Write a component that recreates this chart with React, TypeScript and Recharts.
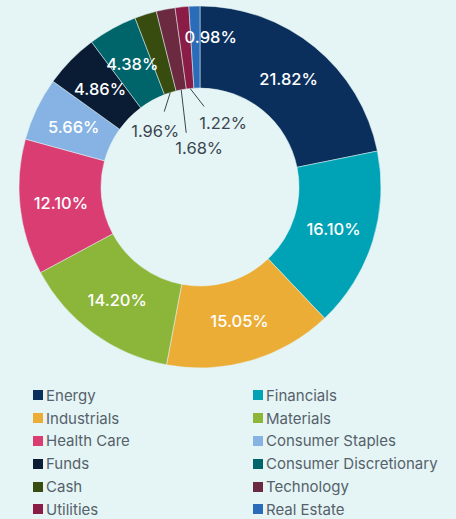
import { Cell, Legend, Pie, PieChart } from 'recharts'

const sectors = [
  'Energy', 'Financials', 'Industrials', 'Materials', 'Health Care', 'Consumer Staples',
  'Funds', 'Consumer Discretionary', 'Cash', 'Technology', 'Utilities', 'Real Estate',
]
const weights = [21.82, 16.1, 15.05, 14.2, 12.1, 5.66, 4.86, 4.38, 1.96, 1.68, 1.22, 0.98]
const colors = [
  '#0b2f5c', '#00a3b5', '#ebad36', '#8bb63a', '#d93d72', '#86b3e4',
  '#0a1b34', '#00646b', '#374c0e', '#6c2a41', '#8b1c46', '#2b6cb8',
]

// small slices get a leader line into the hole: [line dx, line dy, text dx, text dy]
const leaders: Record<string, number[]> = {
  Cash: [-6, 19, -9, 19],
  Technology: [5, 43, 13, 15],
  Utilities: [14, 18, 19, 17],
}
// nudges for labels that are not at the ring centre
const nudges: Record<string, number[]> = {
  'Real Estate': [15, -10],
}

const data = sectors.map((name, i) => ({ name, value: weights[i], color: colors[i] }))

const RAD = Math.PI / 180
const BG = '#e5f5f5'

function SliceLabel(props: any) {
  const { cx, cy, midAngle, innerRadius, outerRadius, name, value } = props
  const cos = Math.cos(-midAngle * RAD)
  const sin = Math.sin(-midAngle * RAD)
  const text = `${value.toFixed(2)}%`
  const leader = leaders[name]
  if (leader) {
    const x0 = cx + innerRadius * cos
    const y0 = cy + innerRadius * sin
    const x1 = x0 + leader[0]
    const y1 = y0 + leader[1]
    return (
      <g>
        <line x1={x0} y1={y0} x2={x1} y2={y1} stroke="#3b4550" strokeWidth={1} />
        <text x={x1 + leader[2]} y={y1 + leader[3]} fill="#3b4550" fontSize={16.5}
          fontFamily="Inter" textAnchor="middle" dominantBaseline="central">
          {text}
        </text>
      </g>
    )
  }
  const r = (innerRadius + outerRadius) / 2
  const n = nudges[name] ?? [0, 0]
  return (
    <text x={cx + r * cos + n[0]} y={cy + r * sin + n[1]} fill="#ffffff" fontSize={16.5}
      fontWeight={500} fontFamily="Inter" textAnchor="middle" dominantBaseline="central">
      {text}
    </text>
  )
}

function GridLegend() {
  return (
    <div style={{
      display: 'grid', gridTemplateColumns: '220px 200px', rowGap: 0,
      paddingLeft: 33, fontFamily: 'Inter', fontSize: 15, color: '#56616b',
    }}>
      {data.map((d) => (
        <div key={d.name} style={{ display: 'flex', alignItems: 'center', height: 22.8 }}>
          <span style={{ width: 10, height: 10, background: d.color, marginRight: 3, flexShrink: 0 }} />
          <span>{d.name}</span>
        </div>
      ))}
    </div>
  )
}

export default function App() {
  return (
    <div style={{ position: 'absolute', top: 0, left: 0, width: 456, height: 519, background: BG }}>
      <PieChart width={456} height={519} margin={{ top: 0, right: 0, bottom: 0, left: 0 }}>
        <Pie
          data={data}
          dataKey="value"
          nameKey="name"
          cx={200}
          cy={187}
          innerRadius={99}
          outerRadius={181}
          startAngle={90}
          endAngle={-270}
          stroke={BG}
          strokeWidth={0.5}
          label={SliceLabel}
          labelLine={false}
          isAnimationActive={false}
        >
          {data.map((d) => <Cell key={d.name} fill={d.color} />)}
        </Pie>
        <Legend
          content={<GridLegend />}
          wrapperStyle={{ position: 'absolute', top: 384, left: 0, width: 456 }}
        />
      </PieChart>
    </div>
  )
}
